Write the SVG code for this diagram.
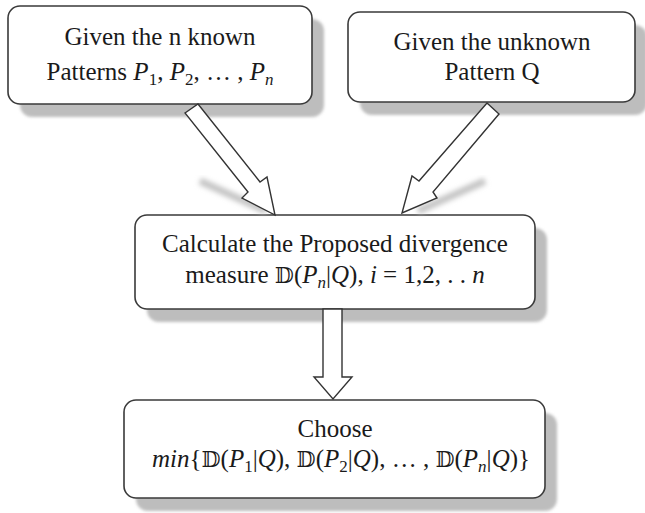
<svg xmlns="http://www.w3.org/2000/svg" width="645" height="513" viewBox="0 0 645 513">
<defs>
<filter id="blur" x="-10%" y="-10%" width="120%" height="120%"><feGaussianBlur stdDeviation="1.5"/></filter>
<filter id="blur2" x="-20%" y="-20%" width="140%" height="140%"><feGaussianBlur stdDeviation="2.5"/></filter>
</defs>
<style>
.box{fill:#fff;stroke:#3a3a3a;stroke-width:1.6}
.shadow{fill:#bdbdbd;filter:url(#blur)}
.t{font-family:"Liberation Serif","Times New Roman",serif;font-size:25px;fill:#1a1a1a;text-anchor:middle}
.m{font-style:italic}
.ds{font-family:"DejaVu Serif","DejaVu Sans",serif;font-style:normal;font-size:22px}
.sub{font-size:17px}
.arrow{fill:#fff;stroke:#333;stroke-width:1.4;stroke-linejoin:miter}
.ashadow{stroke:#c4c4c4;stroke-width:7;fill:none;filter:url(#blur2)}
</style>
<rect width="645" height="513" fill="#fff"/>
<g id="node-known">
<rect class="shadow" x="20" y="19" width="304" height="98" rx="12"/>
<rect class="box" x="8" y="6" width="304" height="98" rx="12"/>
<text class="t" x="160" y="45">Given the n known</text>
<text class="t" x="160" y="80">Patterns <tspan class="m">P</tspan><tspan class="sub" dy="5">1</tspan><tspan dy="-5">, </tspan><tspan class="m">P</tspan><tspan class="sub" dy="5">2</tspan><tspan dy="-5">, … , </tspan><tspan class="m">P</tspan><tspan class="sub m" dy="5">n</tspan></text>
</g>
<g id="node-unknown">
<rect class="shadow" x="360" y="25" width="287" height="90" rx="12"/>
<rect class="box" x="348" y="12" width="287" height="90" rx="12"/>
<text class="t" x="492" y="50">Given the unknown</text>
<text class="t" x="492" y="80">Pattern Q</text>
</g>
<g id="node-calc">
<rect class="shadow" x="147" y="228" width="400" height="94" rx="12"/>
<rect class="box" x="135" y="215" width="400" height="94" rx="12"/>
<text class="t" x="335" y="252">Calculate the Proposed divergence</text>
<text class="t" x="335" y="283">measure <tspan class="ds">𝔻</tspan>(<tspan class="m">P</tspan><tspan class="sub m" dy="5">n</tspan><tspan dy="-5">|</tspan><tspan class="m">Q</tspan>), <tspan class="m">i</tspan> = 1,2, . . <tspan class="m">n</tspan></text>
</g>
<g id="node-choose">
<rect class="shadow" x="136" y="413" width="421" height="98" rx="12"/>
<rect class="box" x="124" y="400" width="421" height="98" rx="12"/>
<text class="t" x="335" y="437">Choose</text>
<text class="t" x="341" y="467"><tspan class="m">min</tspan>{<tspan class="ds">𝔻</tspan>(<tspan class="m">P</tspan><tspan class="sub" dy="5">1</tspan><tspan dy="-5">|</tspan><tspan class="m">Q</tspan>), <tspan class="ds">𝔻</tspan>(<tspan class="m">P</tspan><tspan class="sub" dy="5">2</tspan><tspan dy="-5">|</tspan><tspan class="m">Q</tspan>), … , <tspan class="ds">𝔻</tspan>(<tspan class="m">P</tspan><tspan class="sub m" dy="5">n</tspan><tspan dy="-5">|</tspan><tspan class="m">Q</tspan>)}</text>
</g>
<g id="connectors">
<line class="ashadow" x1="200" y1="181" x2="266" y2="211"/>
<line class="ashadow" x1="485" y1="181" x2="418" y2="211"/>
<polygon class="arrow" points="185,113 198,104 260,182 267,177 275,215 242,198 248,192"/>
<polygon class="arrow" points="487,103 499,114 433,192 437,198 402,213 412,176 419,181"/>
<polygon class="arrow" points="323,309 342,309 342,377 352,377 333,399 314,377 323,377"/>
</g>
</svg>
